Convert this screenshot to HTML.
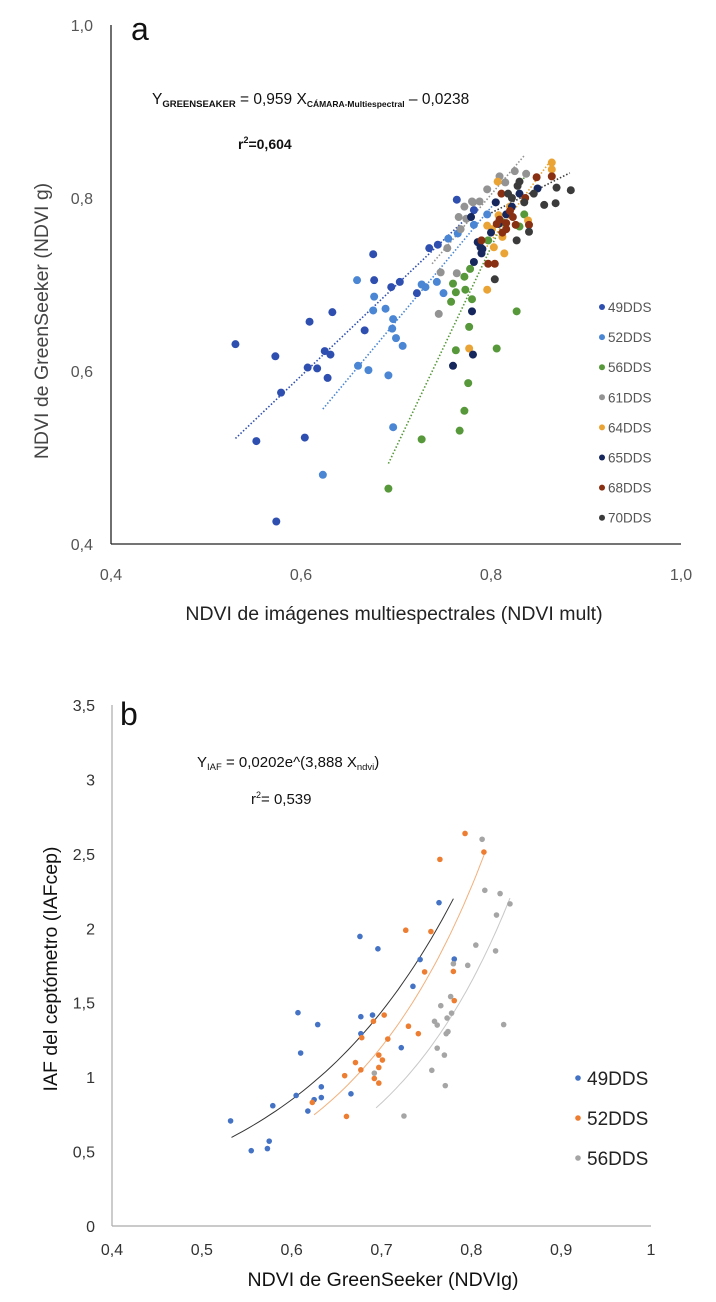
<!DOCTYPE html>
<html><head><meta charset="utf-8"><style>
html,body{margin:0;padding:0;background:#fff}
svg{display:block}
text{font-family:"Liberation Sans",Arial,sans-serif}
</style></head><body>
<svg id="fig" width="716" height="1302" viewBox="0 0 716 1302">
<g id="chartA"></g>
<g id="chartB"></g>
</svg>
<script>
// ===== Chart A data =====
const aSeriesNames = ["49DDS","52DDS","56DDS","61DDS","64DDS","65DDS","68DDS","70DDS"];
const aColors = ["#2f4fb0","#4a86d4","#56983a","#939393","#eaa436","#16275e","#8a3012","#3b3b3b"];
const aX49 = [0.531,0.573,0.553,0.574,0.579,0.607,0.617,0.628,0.625,0.631,0.609,0.633,0.604,0.667,0.676,0.677,0.695,0.704,0.722,0.735,0.744,0.764,0.782];
const aY49 = [0.631,0.617,0.519,0.426,0.575,0.604,0.603,0.592,0.623,0.619,0.657,0.668,0.523,0.647,0.735,0.705,0.697,0.703,0.690,0.742,0.746,0.798,0.786];
const aX52 = [0.659,0.677,0.676,0.689,0.697,0.696,0.700,0.707,0.660,0.671,0.692,0.697,0.623,0.727,0.731,0.743,0.750,0.755,0.765,0.782,0.796];
const aY52 = [0.705,0.686,0.670,0.672,0.660,0.649,0.638,0.629,0.606,0.601,0.595,0.535,0.480,0.700,0.697,0.703,0.690,0.753,0.759,0.769,0.781];
const aX56 = [0.692,0.727,0.767,0.772,0.776,0.763,0.806,0.827,0.777,0.758,0.763,0.760,0.772,0.773,0.780,0.778,0.797,0.835,0.830,0.812];
const aY56 = [0.464,0.521,0.531,0.554,0.586,0.624,0.626,0.669,0.651,0.680,0.691,0.701,0.709,0.694,0.683,0.718,0.751,0.781,0.767,0.772];
const aX61 = [0.745,0.747,0.764,0.754,0.768,0.766,0.774,0.781,0.796,0.809,0.825,0.837,0.805,0.788,0.780,0.772,0.815];
const aY61 = [0.666,0.714,0.713,0.742,0.764,0.778,0.776,0.795,0.810,0.825,0.831,0.828,0.795,0.796,0.796,0.790,0.818];
const aX64 = [0.864,0.864,0.807,0.796,0.803,0.814,0.796,0.777,0.812,0.839,0.801,0.820,0.808];
const aY64 = [0.841,0.833,0.819,0.768,0.743,0.736,0.694,0.626,0.755,0.774,0.764,0.790,0.780];
const aX65 = [0.779,0.786,0.791,0.782,0.780,0.781,0.760,0.790,0.805,0.816,0.830,0.849,0.789,0.808,0.800,0.822];
const aY65 = [0.778,0.749,0.741,0.726,0.669,0.619,0.606,0.736,0.795,0.781,0.805,0.811,0.743,0.770,0.760,0.790];
const aX68 = [0.790,0.797,0.804,0.811,0.816,0.826,0.836,0.848,0.864,0.823,0.816,0.840,0.806,0.812,0.820,0.809];
const aY68 = [0.751,0.724,0.724,0.805,0.771,0.769,0.800,0.824,0.825,0.778,0.764,0.769,0.770,0.760,0.785,0.775];
const aX70 = [0.884,0.869,0.868,0.856,0.845,0.828,0.840,0.827,0.804,0.818,0.830,0.835,0.822];
const aY70 = [0.809,0.812,0.794,0.792,0.805,0.814,0.761,0.751,0.706,0.805,0.819,0.795,0.800];
const aXs = [aX49,aX52,aX56,aX61,aX64,aX65,aX68,aX70];
const aYs = [aY49,aY52,aY56,aY61,aY64,aY65,aY68,aY70];
const aTrendColors = ["#2f4fb0","#4a86d4","#56983a","#939393","#eaa436","#3b3b3b"];
const aTrendX0 = [0.531,0.623,0.692,0.738,0.789,0.797];
const aTrendY0 = [0.522,0.556,0.493,0.724,0.734,0.781];
const aTrendX1 = [0.786,0.803,0.835,0.835,0.864,0.883];
const aTrendY1 = [0.789,0.793,0.824,0.849,0.845,0.829];
const aXTicks = [0.4,0.6,0.8,1.0];
const aXTickLabels = ["0,4","0,6","0,8","1,0"];
const aYTicks = [0.4,0.6,0.8,1.0];
const aYTickLabels = ["0,4","0,6","0,8","1,0"];

// ===== Chart B data =====
const bSeriesNames = ["49DDS","52DDS","56DDS"];
const bColors = ["#4472c4","#ed7d31","#a5a5a5"];
const bX49 = [0.532,0.555,0.573,0.575,0.579,0.605,0.607,0.610,0.618,0.625,0.633,0.633,0.629,0.666,0.676,0.677,0.677,0.690,0.696,0.722,0.735,0.743,0.764,0.781];
const bY49 = [0.706,0.506,0.520,0.570,0.808,0.877,1.433,1.162,0.772,0.849,0.863,0.935,1.353,0.888,1.945,1.406,1.292,1.417,1.862,1.198,1.610,1.790,2.172,1.793];
const bX52 = [0.623,0.661,0.659,0.671,0.677,0.678,0.691,0.692,0.697,0.697,0.697,0.701,0.703,0.707,0.727,0.730,0.741,0.748,0.755,0.765,0.780,0.781,0.793,0.814];
const bY52 = [0.830,0.736,1.010,1.098,1.049,1.265,1.375,0.991,0.960,1.065,1.148,1.115,1.417,1.256,1.987,1.342,1.292,1.707,1.978,2.463,1.710,1.514,2.637,2.512];
const bX56 = [0.692,0.725,0.756,0.762,0.759,0.762,0.766,0.770,0.771,0.772,0.774,0.773,0.777,0.778,0.780,0.796,0.805,0.812,0.815,0.827,0.828,0.832,0.836,0.843];
const bY56 = [1.027,0.739,1.046,1.195,1.375,1.350,1.480,1.148,0.943,1.292,1.306,1.397,1.541,1.430,1.762,1.751,1.887,2.598,2.255,1.848,2.089,2.233,1.353,2.164];
const bXs = [bX49,bX52,bX56];
const bYs = [bY49,bY52,bY56];
const bTrendColors = ["#333333","#f2b07c","#c8c8c8"];
const bTrendA = [0.0355,0.01394,0.00684];
const bTrendB = [5.29,6.37,6.85];
const bTrendX0 = [0.533,0.625,0.694];
const bTrendX1 = [0.780,0.815,0.843];
const bXTicks = [0.4,0.5,0.6,0.7,0.8,0.9,1.0];
const bXTickLabels = ["0,4","0,5","0,6","0,7","0,8","0,9","1"];
const bYTicks = [0,0.5,1,1.5,2,2.5,3,3.5];
const bYTickLabels = ["0","0,5","1","1,5","2","2,5","3","3,5"];

const NS="http://www.w3.org/2000/svg";
function mk(parent,tag,attrs,txt){const e=document.createElementNS(NS,tag);for(const k in attrs)e.setAttribute(k,attrs[k]);if(txt!==undefined)e.textContent=txt;parent.appendChild(e);return e;}

// ----- Chart A -----
(function(){
const g=document.getElementById('chartA');
const X0=111,X1=681,Y0=544,Y1=25;
const ax=v=>X0+(v-0.4)/0.6*(X1-X0);
const ay=v=>Y0-(v-0.4)/0.6*(Y0-Y1);
let l=mk(g,'line',{x1:X0,y1:Y1,x2:X0,y2:Y0,stroke:'#222','stroke-width':1.3});


l=mk(g,'line',{x1:X0,y1:Y0,x2:X1,y2:Y0,stroke:'#222','stroke-width':1.3});


aYTicks.forEach((v,i)=>{const t=mk(g,'text',{x:93,y:ay(v)+6,'text-anchor':'end','font-size':16,fill:'#555'},aYTickLabels[i]);

});
aXTicks.forEach((v,i)=>{const t=mk(g,'text',{x:ax(v),y:580,'text-anchor':'middle','font-size':16,fill:'#555'},aXTickLabels[i]);

});
aTrendX0.forEach((x0,i)=>{const t=mk(g,'line',{x1:ax(x0),y1:ay(aTrendY0[i]),x2:ax(aTrendX1[i]),y2:ay(aTrendY1[i]),stroke:aTrendColors[i],'stroke-width':1.6,'stroke-dasharray':'1.5 2'});

});
aXs.forEach((xs,s)=>{xs.forEach((x,i)=>{const c=mk(g,'circle',{cx:ax(x),cy:ay(aYs[s][i]),r:4,fill:aColors[s]});

});});
aSeriesNames.forEach((n,i)=>{const y=307+i*30.1;
const c=mk(g,'circle',{cx:602,cy:y,r:3,fill:aColors[i]});


const t=mk(g,'text',{x:608,y:y+5,'font-size':13.5,fill:'#555'},n);

});
})();

// ----- Chart B -----
(function(){
const g=document.getElementById('chartB');
const X0=112,X1=651,Y0=1226,Y1=705;
const bx=v=>X0+(v-0.4)/0.6*(X1-X0);
const by=v=>Y0-v/3.5*(Y0-Y1);
let l=mk(g,'line',{x1:X0,y1:Y1,x2:X0,y2:Y0,stroke:'#aaa','stroke-width':1.2});


l=mk(g,'line',{x1:X0,y1:Y0,x2:X1,y2:Y0,stroke:'#aaa','stroke-width':1.2});


bYTicks.forEach((v,i)=>{const t=mk(g,'text',{x:95,y:by(v)+6,'text-anchor':'end','font-size':16,fill:'#333'},bYTickLabels[i]);

});
bXTicks.forEach((v,i)=>{const t=mk(g,'text',{x:bx(v),y:1255,'text-anchor':'middle','font-size':16,fill:'#333'},bXTickLabels[i]);

});
bTrendA.forEach((a,i)=>{let d='';for(let k=0;k<=40;k++){const x=bTrendX0[i]+(bTrendX1[i]-bTrendX0[i])*k/40;d+=(k?'L':'M')+bx(x).toFixed(1)+','+by(a*Math.exp(bTrendB[i]*x)).toFixed(1);}
const p=mk(g,'path',{d:d,fill:'none',stroke:bTrendColors[i],'stroke-width':1});

});
bXs.forEach((xs,s)=>{xs.forEach((x,i)=>{const c=mk(g,'circle',{cx:bx(x),cy:by(bYs[s][i]),r:2.8,fill:bColors[s]});

});});
bSeriesNames.forEach((n,i)=>{const y=1078+i*40;
const c=mk(g,'circle',{cx:578,cy:y,r:2.8,fill:bColors[i]});


const t=mk(g,'text',{x:587,y:y+7,'font-size':19,fill:'#222'},n);

});
})();
</script>
<div style="position:absolute;left:0;top:0;width:716px;height:1302px;pointer-events:none">
<svg width="716" height="1302" style="position:absolute;left:0;top:0">
<text x="131" y="40" font-size="32" fill="#111">a</text>
<text x="152" y="104" font-size="15.5" fill="#111">Y<tspan font-size="9.5" font-weight="bold" dy="3">GREENSEAKER</tspan><tspan dy="-3"> = 0,959 X</tspan><tspan font-size="8.5" font-weight="bold" dy="3">CÁMARA-Multiespectral</tspan><tspan dy="-3"> – 0,0238</tspan></text>
<text x="238" y="149" font-size="14" font-weight="bold" fill="#111">r<tspan font-size="9" dy="-6">2</tspan><tspan dy="6">=0,604</tspan></text>
<text transform="translate(48,321) rotate(-90)" text-anchor="middle" font-size="19.5" fill="#444">NDVI de GreenSeeker (NDVI g)</text>
<text x="394" y="620" text-anchor="middle" font-size="19.5" fill="#222">NDVI de imágenes multiespectrales (NDVI mult)</text>
<text x="120" y="725" font-size="32" fill="#111">b</text>
<text x="197" y="767" font-size="15" fill="#111">Y<tspan font-size="9.5" dy="3">IAF</tspan><tspan dy="-3"> = 0,0202e^(3,888 X</tspan><tspan font-size="9.5" dy="3">ndvi</tspan><tspan dy="-3">)</tspan></text>
<text x="251" y="804" font-size="15" fill="#111">r<tspan font-size="9" dy="-6">2</tspan><tspan dy="6">= 0,539</tspan></text>
<text transform="translate(57,969) rotate(-90)" text-anchor="middle" font-size="19.5" fill="#111">IAF del ceptómetro (IAFcep)</text>
<text x="383" y="1286" text-anchor="middle" font-size="19.5" fill="#111">NDVI de GreenSeeker (NDVIg)</text>
</svg></div>
</body></html>
